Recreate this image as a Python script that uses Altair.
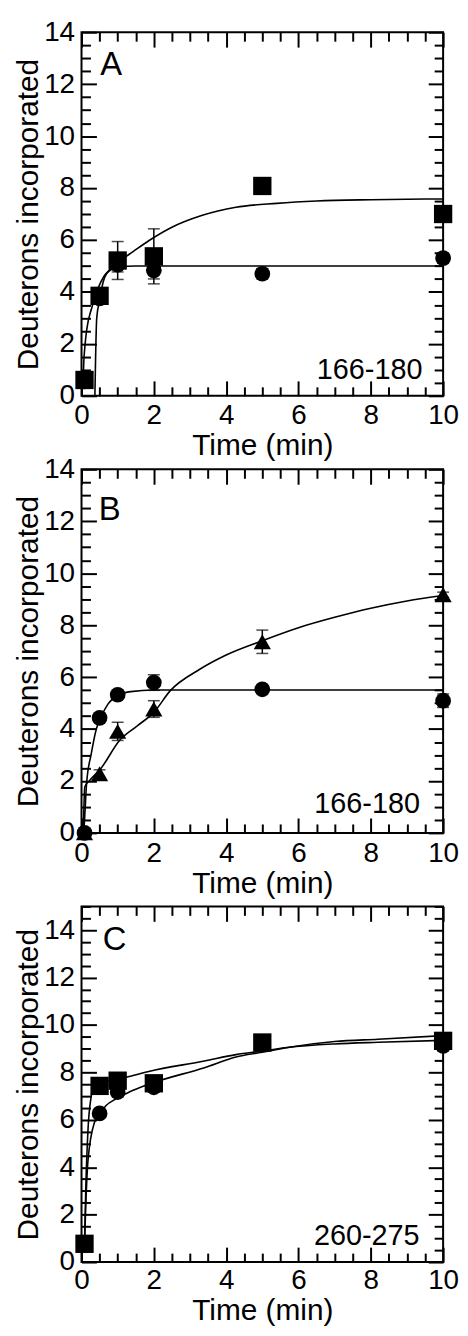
import altair as alt
import pandas as pd

FONT = "Liberation Sans"

TIME = [0.083, 0.5, 1, 2, 5, 10]

# ---- Panel A (peptide 166-180) ----
A_SQUARE = [0.61, 3.85, 5.21, 5.37, 8.08, 7.00]
A_SQUARE_ERR = [0.10, 0.20, 0.73, 1.06, 0.20, 0.30]
A_CIRCLE = [0.55, 3.75, 5.05, 4.83, 4.70, 5.30]
A_CIRCLE_ERR = [0.10, 0.15, 0.28, 0.33, 0.20, 0.20]
A_FIT_SQ_T = [0.04, 0.06, 0.10, 0.15, 0.28, 0.42, 0.64, 0.82, 1.05, 1.32, 1.87, 2.5, 3.32, 4.27, 5.4, 6.5, 8.0, 10.0]
A_FIT_SQ_Y = [0.30, 1.20, 2.00, 2.60, 3.37, 4.00, 4.64, 4.90, 5.20, 5.45, 5.98, 6.49, 6.94, 7.26, 7.41, 7.50, 7.55, 7.58]
A_FIT_CI_T = [0.37, 0.39, 0.42, 0.51, 0.60, 0.69, 0.87, 1.05, 1.50, 10.0]
A_FIT_CI_Y = [0.00, 1.50, 2.98, 3.75, 4.39, 4.70, 4.90, 4.98, 5.00, 5.00]

# ---- Panel B (peptide 166-180) ----
B_CIRCLE = [0.00, 4.43, 5.32, 5.79, 5.53, 5.09]
B_CIRCLE_ERR = [0.05, 0.10, 0.10, 0.30, 0.10, 0.26]
B_TRIANGLE = [0.00, 2.28, 3.91, 4.77, 7.36, 9.17]
B_TRIANGLE_ERR = [0.05, 0.15, 0.35, 0.32, 0.45, 0.10]
B_FIT_CI_T = [0.05, 0.07, 0.14, 0.27, 0.41, 0.53, 0.73, 1.05, 1.36, 2.0, 10.0]
B_FIT_CI_Y = [0.00, 0.24, 1.90, 3.05, 4.00, 4.43, 4.96, 5.32, 5.44, 5.50, 5.50]
B_FIT_TR_T = [0.05, 0.09, 0.23, 0.53, 1.05, 1.55, 2.0, 2.45, 3.27, 4.0, 5.0, 6.0, 7.0, 8.0, 9.0, 10.0]
B_FIT_TR_Y = [0.00, 1.77, 2.03, 2.47, 3.56, 4.13, 4.64, 5.47, 6.30, 6.85, 7.40, 7.90, 8.30, 8.65, 8.93, 9.14]

# ---- Panel C (peptide 260-275) ----
C_SQUARE = [0.77, 7.43, 7.65, 7.54, 9.26, 9.33]
C_SQUARE_ERR = [0.20, 0.15, 0.25, 0.20, 0.30, 0.25]
C_CIRCLE = [0.72, 6.27, 7.17, 7.37, 9.20, 9.12]
C_CIRCLE_ERR = [0.10, 0.15, 0.20, 0.20, 0.20, 0.20]
C_FIT_SQ_T = [0.08, 0.12, 0.18, 0.27, 0.32, 0.55, 1.0, 1.32, 1.86, 3.4, 4.27, 5.0, 5.7, 7.0, 8.2, 10.0]
C_FIT_SQ_Y = [0.60, 3.20, 5.60, 7.00, 7.43, 7.55, 7.75, 7.83, 8.04, 8.48, 8.75, 8.90, 9.05, 9.20, 9.27, 9.35]
C_FIT_CI_T = [0.08, 0.12, 0.18, 0.36, 0.55, 0.68, 0.95, 1.32, 1.86, 3.4, 4.27, 5.0, 5.7, 7.0, 8.2, 10.0]
C_FIT_CI_Y = [0.60, 2.50, 4.30, 5.90, 6.35, 6.60, 6.88, 7.17, 7.50, 8.20, 8.65, 8.85, 9.05, 9.30, 9.40, 9.55]

X_MAJOR = [0, 2, 4, 6, 8, 10]
Y_MAJOR = [0, 2, 4, 6, 8, 10, 12, 14]

PLOT_W = 364


def minor(lo, hi, step, majors):
    vals = []
    v = lo
    while v <= hi + 1e-9:
        if all(abs(v - m) > 1e-9 for m in majors):
            vals.append(round(v, 3))
        v += step
    return vals


def panel(fits, series, letter, letter_pos, pep, pep_pos, ymax, height,
          label_pad, title_pad):
    xs = alt.Scale(domain=[0, 10], nice=False, zero=False)
    ys = alt.Scale(domain=[0, ymax], nice=False, zero=False)

    rows = []
    for name, ts, yv in fits:
        for t, y in zip(ts, yv):
            rows.append({"t": t, "y": y, "curve": name})
    fit_df = pd.DataFrame(rows)

    main_x = alt.Axis(orient="bottom", values=X_MAJOR, ticks=False, domain=False,
                      grid=False, labelFlush=False, labelFontSize=28,
                      labelPadding=label_pad, labelFont=FONT, labelColor="black",
                      title="Time (min)", titleFont=FONT, titleFontSize=30,
                      titleFontWeight="normal", titleColor="black",
                      titlePadding=title_pad)
    main_y = alt.Axis(orient="left", values=Y_MAJOR, ticks=False, domain=False,
                      grid=False, labelFontSize=28, labelPadding=7, labelFont=FONT,
                      labelColor="black", title="Deuterons incorporated",
                      titleFont=FONT, titleFontSize=30, titleFontWeight="normal",
                      titleColor="black", titlePadding=0)

    layers = [
        alt.Chart(fit_df).mark_line(color="black", strokeWidth=1.6,
                                    interpolate="monotone", clip=True).encode(
            x=alt.X("t:Q", scale=xs, axis=main_x),
            y=alt.Y("y:Q", scale=ys, axis=main_y),
            detail="curve:N",
        )
    ]

    for name, shape, size, vals, errs in series:
        df = pd.DataFrame({"t": TIME, "y": vals,
                           "lo": [v - e for v, e in zip(vals, errs)],
                           "hi": [v + e for v, e in zip(vals, errs)]})
        caps = pd.DataFrame({"t": TIME + TIME,
                             "c": list(df["lo"]) + list(df["hi"])})
        layers.append(alt.Chart(df).mark_rule(color="black", strokeWidth=1.5).encode(
            x=alt.X("t:Q", scale=xs, axis=None),
            y=alt.Y("lo:Q", scale=ys, axis=None),
            y2="hi:Q"))
        layers.append(alt.Chart(caps).mark_tick(color="black", orient="horizontal",
                                                size=12, thickness=1.5).encode(
            x=alt.X("t:Q", scale=xs, axis=None),
            y=alt.Y("c:Q", scale=ys, axis=None)))
        layers.append(alt.Chart(df).mark_point(shape=shape, filled=True, size=size,
                                               color="black", opacity=1).encode(
            x=alt.X("t:Q", scale=xs, axis=None),
            y=alt.Y("y:Q", scale=ys, axis=None)))

    ann = pd.DataFrame({"t": [letter_pos[0], pep_pos[0]],
                        "y": [letter_pos[1], pep_pos[1]],
                        "txt": [letter, pep]})
    layers.append(alt.Chart(ann.iloc[[0]]).mark_text(
        align="left", baseline="middle", font=FONT, fontSize=33, color="black").encode(
        x=alt.X("t:Q", scale=xs, axis=None),
        y=alt.Y("y:Q", scale=ys, axis=None), text="txt:N"))
    layers.append(alt.Chart(ann.iloc[[1]]).mark_text(
        align="right", baseline="middle", font=FONT, fontSize=29, color="black").encode(
        x=alt.X("t:Q", scale=xs, axis=None),
        y=alt.Y("y:Q", scale=ys, axis=None), text="txt:N"))

    # inward tick marks on all four sides (tick-only axes shifted inside the frame)
    y_minor = minor(0, ymax, 0.5, Y_MAJOR)
    x_minor = minor(0, 10, 0.5, X_MAJOR)
    tick_specs = [
        ("x", "bottom", X_MAJOR, 15), ("x", "bottom", x_minor, 9),
        ("x", "top", X_MAJOR, 15), ("x", "top", x_minor, 9),
        ("y", "left", Y_MAJOR, 15), ("y", "left", y_minor, 9),
        ("y", "right", Y_MAJOR, 15), ("y", "right", y_minor, 9),
    ]
    for ch, orient, vals, size in tick_specs:
        ax = alt.Axis(orient=orient, values=vals, tickSize=size, offset=-size,
                      labels=False, domain=False, grid=False, ticks=True,
                      tickColor="black", tickWidth=2, title=None,
                      minExtent=0, maxExtent=size)
        layers.append(alt.Chart(fit_df).mark_point(opacity=0).encode(
            x=alt.X("t:Q", scale=xs, axis=ax if ch == "x" else None),
            y=alt.Y("y:Q", scale=ys, axis=ax if ch == "y" else None)))

    return alt.layer(*layers).resolve_axis(x="independent", y="independent").properties(
        width=PLOT_W, height=height)


A = panel(
    fits=[("sq", A_FIT_SQ_T, A_FIT_SQ_Y), ("ci", A_FIT_CI_T, A_FIT_CI_Y)],
    series=[("circle", "circle", 250, A_CIRCLE, A_CIRCLE_ERR),
            ("square", "square", 340, A_SQUARE, A_SQUARE_ERR)],
    letter="A", letter_pos=(0.52, 12.75), pep="166-180", pep_pos=(9.43, 1.0),
    ymax=14, height=366, label_pad=6, title_pad=1)

B = panel(
    fits=[("ci", B_FIT_CI_T, B_FIT_CI_Y), ("tr", B_FIT_TR_T, B_FIT_TR_Y)],
    series=[("triangle", "triangle-up", 300, B_TRIANGLE, B_TRIANGLE_ERR),
            ("circle", "circle", 250, B_CIRCLE, B_CIRCLE_ERR)],
    letter="B", letter_pos=(0.48, 12.42), pep="166-180", pep_pos=(9.36, 1.1),
    ymax=14, height=366, label_pad=7, title_pad=1)

C = panel(
    fits=[("sq", C_FIT_SQ_T, C_FIT_SQ_Y), ("ci", C_FIT_CI_T, C_FIT_CI_Y)],
    series=[("circle", "circle", 250, C_CIRCLE, C_CIRCLE_ERR),
            ("square", "square", 340, C_SQUARE, C_SQUARE_ERR)],
    letter="C", letter_pos=(0.59, 13.57), pep="260-275", pep_pos=(9.35, 1.11),
    ymax=15, height=358, label_pad=5, title_pad=1)

chart = alt.vconcat(A, B, C, spacing=74, bounds="flush").properties(
    padding={"left": 4, "top": 5, "right": 0, "bottom": -4}
).configure_view(stroke="black", strokeWidth=2)

chart.save("out.html", embed_options={"renderer": "svg", "actions": False})
